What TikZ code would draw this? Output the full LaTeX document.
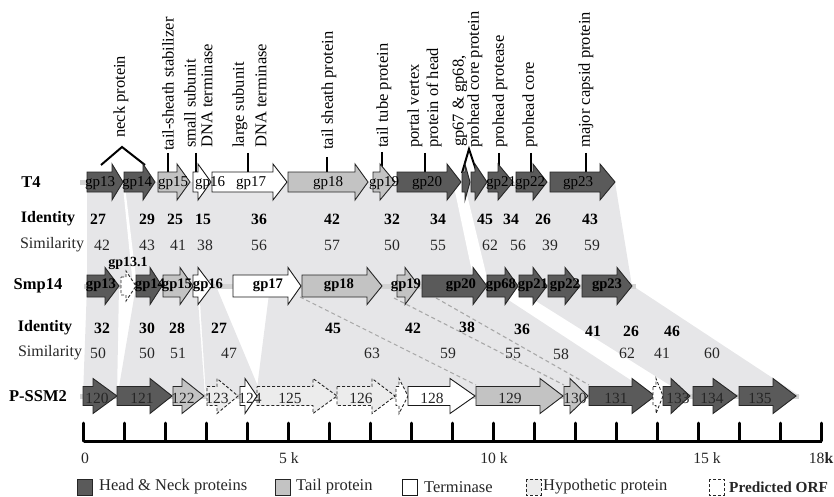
\documentclass[tikz,border=0pt]{standalone}
\usepackage{fontspec}
\setmainfont{Liberation Serif}
\definecolor{band}{HTML}{E6E6E8}
\definecolor{dk}{HTML}{5A5A5A}
\definecolor{lt}{HTML}{C3C3C3}
\definecolor{hy}{HTML}{ECECEC}
\definecolor{bb}{HTML}{D4D4D4}
\definecolor{dl}{HTML}{A8A8A8}
\tikzset{
 dkg/.style={draw=black!85, fill=dk, line width=0.9pt, line join=miter},
 ltg/.style={draw=black!85, fill=lt, line width=0.9pt},
 wtg/.style={draw=black!90, fill=white, line width=0.9pt},
 hyg/.style={draw=black!85, fill=hy, dash pattern=on 3pt off 2pt, line width=0.9pt},
 org/.style={draw=black!85, fill=white, dash pattern=on 3pt off 2pt, line width=0.9pt},
 tlab/.style={inner sep=0, font=\fontsize{15}{16}\selectfont},
 slab/.style={inner sep=0, font=\fontsize{14.6}{16}\selectfont\bfseries},
 plab/.style={inner sep=0, text=black!85, font=\fontsize{15.5}{16}\selectfont},
 toplab/.style={rotate=90, anchor=west, inner sep=0, font=\fontsize{16.5}{18}\selectfont},
 rowlab/.style={inner sep=0, font=\fontsize{16.5}{18}\selectfont\bfseries},
 idn/.style={inner sep=0, font=\fontsize{15.7}{17}\selectfont\bfseries},
 simn/.style={inner sep=0, text=black!85, font=\fontsize{15.7}{17}\selectfont},
 axl/.style={inner sep=0, text=black!85, font=\fontsize{15.7}{17}\selectfont},
 leg/.style={inner sep=0, anchor=west, text=black!85, font=\fontsize{16.5}{18}\selectfont},
 pin/.style={line width=2.4pt},
 caret/.style={line width=2pt},
 dline/.style={draw=dl, dash pattern=on 4pt off 3pt, line width=1.1pt},
 backb/.style={draw=bb, line width=5pt},
}
\newcommand{\gene}[7]{\draw[#1] (#2,#5-#6) -- (#3,#5-#6) -- (#3,#5-#7) -- (#4,#5) -- (#3,#5+#7) -- (#3,#5+#6) -- (#2,#5+#6) -- cycle;}
\newcommand{\Tg}[4]{\gene{#1}{#2}{#3}{#4}{182}{10}{18}}
\newcommand{\Sg}[4]{\gene{#1}{#2}{#3}{#4}{286}{11}{18.5}}
\newcommand{\Pg}[4]{\gene{#1}{#2}{#3}{#4}{396}{9.5}{17.5}}
\begin{document}
\begin{tikzpicture}[x=1pt,y=-1pt]
\useasboundingbox (0,0) rectangle (834,497);
% ---- homology bands T4 - Smp14
\fill[band] (87,182) -- (615,182) -- (632,286) -- (87,286) -- cycle;
\fill[white] (122.5,182) -- (124.5,182) -- (137,286) -- (133,286) -- cycle;
\fill[white] (453,182) -- (464,182) -- (489,286) -- (475,286) -- cycle;
% ---- homology bands Smp14 - P-SSM2
\fill[band] (87,286) -- (119,286) -- (117,396) -- (83,396) -- cycle;
\fill[band] (136,286) -- (197,286) -- (205,396) -- (117.5,396) -- cycle;
\fill[band] (199,286) -- (216,286) -- (262,396) -- (206,396) -- cycle;
\fill[band] (270,286) -- (487,286) -- (655,396) -- (256,396) -- cycle;
\fill[band] (512,286) -- (633,286) -- (800,396) -- (687,396) -- cycle;
\draw[dline] (300,297) -- (476,385);
\draw[dline] (394,298) -- (564,385);
\draw[dline] (436,298) -- (589,385);
% ---- backbones
\draw[backb] (80,182) -- (88,182);
\draw[backb] (84,286) -- (636,286);
\draw[backb] (80,396) -- (799,396);
% ---- top annotations
\node[toplab] at (121,138) {neck protein};
\draw[caret] (101,165) -- (122,147) -- (145,165);
\node[toplab] at (168,151) {tail-sheath stabilizer};
\draw[pin] (168,153) -- (168,173);
\node[toplab] at (190,148) {small subunit};
\node[toplab] at (207,148) {DNA terminase};
\draw[pin] (196,153) -- (196,173);
\node[toplab] at (240,148) {large subunit};
\node[toplab] at (261,148) {DNA terminase};
\draw[pin] (248,153) -- (248,173);
\node[toplab] at (329,150) {tail sheath protein};
\draw[pin] (327,157) -- (327,173);
\node[toplab] at (384,148) {tail tube protein};
\draw[pin] (382,152) -- (382,170);
\node[toplab] at (415,148) {portal vertex};
\node[toplab] at (434,148) {protein of head};
\draw[pin] (425,153) -- (425,173);
\node[toplab] at (460,147) {gp67 \& gp68,};
\node[toplab] at (475,148) {prohead core protein};
\draw[caret] (462,173) -- (469,149) -- (478,176);
\node[toplab] at (500,148) {prohead protease};
\draw[pin] (499,153) -- (499,173);
\node[toplab] at (530,148) {prohead core};
\draw[pin] (531,153) -- (531,173);
\node[toplab] at (586,148) {major capsid protein};
\draw[pin] (586,153) -- (586,173);
% ---- T4 genes
\Tg{dkg}{87}{112}{123}
\Tg{dkg}{124}{143}{155}
\Tg{ltg}{158}{177}{190}
\Tg{wtg}{193}{198}{211}
\Tg{wtg}{212}{273}{287}
\Tg{ltg}{288}{355}{368}
\Tg{ltg}{373}{380}{395}
\Tg{dkg}{397}{447}{461}
\Tg{dkg}{462}{465}{470}
\Tg{dkg}{471}{475}{487}
\Tg{dkg}{488}{498}{513}
\Tg{dkg}{516}{533}{547}
\Tg{dkg}{550}{600}{615}
\foreach \x/\t in {100/gp13,137/gp14,173/gp15,210/gp16,251/gp17,328/gp18,384/gp19,427/gp20,501/gp21,530/gp22,578/gp23}
  \node[tlab] at (\x,183) {\t};
% ---- Smp14 genes
\Sg{dkg}{87}{105}{119}
\gene{org}{121}{126}{136}{286}{9}{15}
\Sg{dkg}{136}{150}{162}
\Sg{ltg}{163}{180}{193}
\Sg{wtg}{193}{198}{212}
\Sg{wtg}{233}{288}{301}
\Sg{ltg}{302}{367}{382}
\Sg{ltg}{397}{405}{419}
\Sg{dkg}{422}{473}{487}
\Sg{dkg}{487}{505}{518}
\Sg{dkg}{519}{533}{547}
\Sg{dkg}{548}{565}{580}
\Sg{dkg}{582}{617}{632}
\foreach \x/\t in {101/gp13,150/gp14,177/gp15,208/gp16,268/gp17,339/gp18,406/gp19,461/gp20,501/gp68,533/gp21,565/gp22,607/gp23}
  \node[slab] at (\x,285) {\t};
\node[slab, font=\fontsize{14}{15}\selectfont\bfseries] at (128,263) {gp13.1};
% ---- P-SSM2 genes
\Pg{dkg}{83}{93}{117}
\Pg{dkg}{117}{150}{172}
\Pg{ltg}{173}{182}{204}
\Pg{hyg}{207}{217}{238}
\Pg{wtg}{240}{245}{257}
\Pg{hyg}{257}{313}{337}
\Pg{hyg}{337}{372}{395}
\Pg{org}{396}{399}{408}
\Pg{wtg}{408}{450}{475}
\Pg{ltg}{476}{540}{563}
\Pg{ltg}{564}{570}{588}
\Pg{dkg}{589}{632}{655}
\Pg{org}{653}{656}{663}
\Pg{dkg}{663}{671}{690}
\Pg{dkg}{693}{713}{737}
\Pg{dkg}{739}{773}{796}
\foreach \x/\t in {97/120,142/121,183/122,217/123,250/124,290/125,361/126,432/128,510/129,575/130,616/131,678/133,712/134,760/135}
  \node[plab] at (\x,398) {\t};
% ---- row labels
\node[rowlab] (t4) at (31,182) {T4};
\node[rowlab] (smp) at (38,286) {Smp14};
\node[rowlab] (pssm) at (38,396) {P-SSM2};
\node[idn, font=\fontsize{16}{17}\selectfont\bfseries] at (48,219) {Identity};
\node[simn, font=\fontsize{16}{17}\selectfont] at (52,245) {Similarity};
\node[idn, font=\fontsize{16}{17}\selectfont\bfseries] at (45,328) {Identity};
\node[simn, font=\fontsize{16}{17}\selectfont] at (50,353) {Similarity};
% ---- numbers
\foreach \x/\t in {98/27,147/29,175/25,203/15,259/36,332/42,392/32,438/34,485/45,511/34,543/26,590/43}
  \node[idn] at (\x,219) {\t};
\foreach \x/\t in {102/42,147/43,178/41,205/38,259/56,332/57,392/50,438/55,490/62,518/56,550/39,592/59}
  \node[simn] at (\x,245) {\t};
\foreach \x/\y/\t in {102/328/32,147/328/30,177/328/28,219/328/27,333/328/45,413/328/42,467/327/38,522/329/36,593/331/41,631/331/26,672/331/46}
  \node[idn] at (\x,\y) {\t};
\foreach \x/\y/\t in {98/353/50,147/353/50,178/353/51,229/353/47,372/353/63,448/353/59,513/353/55,561/354/58,627/353/62,662/353/41,712/353/60}
  \node[simn] at (\x,\y) {\t};
% ---- scale
\draw[line width=3pt] (83.5,441) -- (821.5,441);
\foreach \k in {0,...,18}
  \draw[line width=3pt, line cap=round] (83.5+41*\k,423) -- (83.5+41*\k,441);
\node[axl] at (85,458) {0};
\node[axl] at (289,458) {5 k};
\node[axl] at (494,458) {10 k};
\node[axl] at (707,458) {15 k};
\node[axl, anchor=east] at (833.5,458) {18\textbf{k}};
% ---- legend
\draw[dkg] (77,479) rectangle (92,495);
\node[leg] at (99,487) {Head \& Neck proteins};
\draw[ltg] (275,479) rectangle (290,495);
\node[leg] at (296,487) {Tail protein};
\draw[wtg] (402,479) rectangle (417,495);
\node[leg] at (424,487) {Terminase};
\draw[hyg] (526,479) rectangle (541,495);
\node[leg] at (543,487) {Hypothetic protein};
\draw[org] (709,479) rectangle (724,495);
\node[leg, font=\fontsize{15.3}{17}\selectfont\bfseries] at (729,487) {Predicted ORF};
\end{tikzpicture}
\end{document}
